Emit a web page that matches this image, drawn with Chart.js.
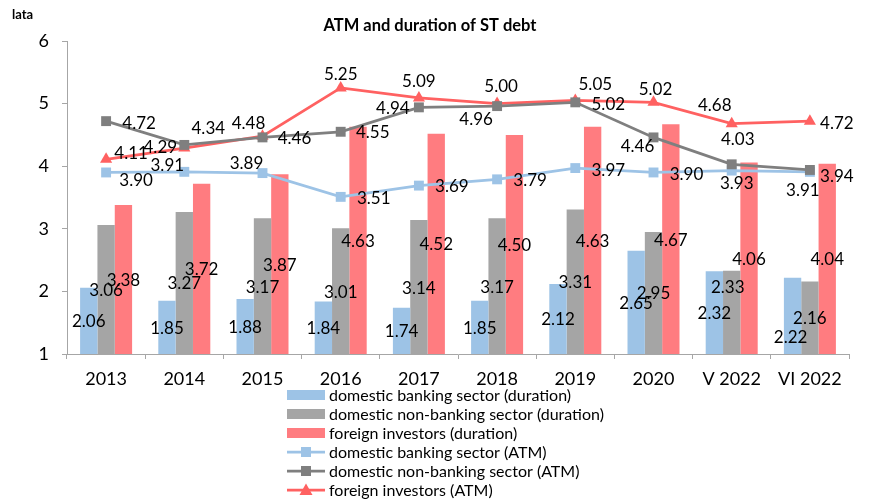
<!DOCTYPE html>
<html>
<head>
<meta charset="utf-8">
<script src="https://cdn.jsdelivr.net/npm/chart.js@4/dist/chart.umd.min.js"></script>
<style>
  html, body { margin: 0; padding: 0; background: #fff; }
  #wrap { width: 891px; height: 499px; position: relative; }
</style>
</head>
<body>
<div id="wrap"><canvas id="c" width="891" height="499"></canvas></div>
<script>
// Categories and series values
const categories = ['2013', '2014', '2015', '2016', '2017', '2018', '2019', '2020', 'V 2022', 'VI 2022'];
const bankDuration    = [2.06, 1.85, 1.88, 1.84, 1.74, 1.85, 2.12, 2.65, 2.32, 2.22];
const nonBankDuration = [3.06, 3.27, 3.17, 3.01, 3.14, 3.17, 3.31, 2.95, 2.33, 2.16];
const foreignDuration = [3.38, 3.72, 3.87, 4.63, 4.52, 4.50, 4.63, 4.67, 4.06, 4.04];
const bankATM         = [3.90, 3.91, 3.89, 3.51, 3.69, 3.79, 3.97, 3.90, 3.93, 3.91];
const nonBankATM      = [4.72, 4.34, 4.46, 4.55, 4.94, 4.96, 5.02, 4.46, 4.03, 3.94];
const foreignATM      = [4.11, 4.29, 4.48, 5.25, 5.09, 5.00, 5.05, 5.02, 4.68, 4.72];
const yTicks = [1, 2, 3, 4, 5, 6];
const seriesNames = [
  'domestic banking sector (duration)',
  'domestic non-banking sector (duration)',
  'foreign investors (duration)',
  'domestic banking sector (ATM)',
  'domestic non-banking sector (ATM)',
  'foreign investors (ATM)'
];
const chartTitle = 'ATM and duration of ST debt';
const unitLabel = 'lata';

// Styling
const FONT = 'Lato, "Open Sans", sans-serif';
const C = {
  blueBar: '#9DC3E6', grayBar: '#A5A5A5', redBar: '#FF7C80',
  blueLine: '#9DC3E6', grayLine: '#7F7F7F', redLine: '#FF6161',
  axis: '#A6A6A6', text: '#000000'
};

// Label placement for the line series (pixel offset of the label centre from its point)
const lineLabelOffsets = {
  3: [[30, 8], [-17, -6], [-16, -10], [33, 2], [33, 1], [33, 1], [33, 2], [33, 2], [5, 13], [-7, 19]],
  4: [[33, 2], [24, -16], [32, 1], [32, 1], [-26, 1], [-21, 13], [33, 2], [-16, 9], [6, -25], [27, 7]],
  5: [[25, -6], [-24, -1], [-14, -13], [0, -13], [0, -16], [4, -17], [20, -16], [2, -13], [-17, -18], [27, 2]]
};
// Bar labels sit at the middle of the bar; these few are nudged apart
const barLabelNudges = { '1:8': [-4, -26], '0:9': [-2, 21] };

const valueLabels = {
  id: 'valueLabels',
  afterDatasetsDraw(chart) {
    const ctx = chart.ctx;
    const bottom = chart.chartArea.bottom;
    ctx.save();
    ctx.font = '17px ' + FONT;
    ctx.fillStyle = C.text;
    ctx.textAlign = 'center';
    ctx.textBaseline = 'middle';
    chart.data.datasets.forEach((ds, di) => {
      const meta = chart.getDatasetMeta(di);
      meta.data.forEach((el, i) => {
        const txt = ds.data[i].toFixed(2);
        if (ds.type === 'line') {
          const off = lineLabelOffsets[di][i];
          ctx.fillText(txt, el.x + off[0], el.y + off[1]);
        } else {
          // centre of the visible part of the bar
          const base = Math.min(el.base, bottom);
          const nudge = barLabelNudges[di + ':' + i] || [0, 0];
          ctx.fillText(txt, el.x + nudge[0], (el.y + base) / 2 + 1 + nudge[1]);
        }
      });
    });
    ctx.restore();
  }
};

const headings = {
  id: 'headings',
  afterDraw(chart) {
    const ctx = chart.ctx;
    ctx.save();
    ctx.fillStyle = C.text;
    ctx.textBaseline = 'middle';
    ctx.font = 'bold 16.5px ' + FONT;
    ctx.textAlign = 'center';
    ctx.fillText(chartTitle, 430, 26);
    ctx.font = 'bold 13px ' + FONT;
    ctx.textAlign = 'left';
    ctx.fillText(unitLabel, 12, 15);
    ctx.restore();
  }
};

// Vertical legend, one entry per row, under the axis
const stackedLegend = {
  id: 'stackedLegend',
  afterDraw(chart) {
    const ctx = chart.ctx;
    const x0 = 287, sw = 38, y0 = 395, row = 19;
    ctx.save();
    ctx.font = '16px ' + FONT;
    ctx.textBaseline = 'middle';
    ctx.textAlign = 'left';
    chart.data.datasets.forEach((ds, di) => {
      const y = y0 + di * row;
      const cx = x0 + sw / 2;
      if (ds.type === 'line') {
        ctx.strokeStyle = ds.borderColor;
        ctx.lineWidth = ds.borderWidth;
        ctx.beginPath();
        ctx.moveTo(x0, y);
        ctx.lineTo(x0 + sw, y);
        ctx.stroke();
        ctx.fillStyle = ds.pointBackgroundColor;
        ctx.beginPath();
        if (ds.pointStyle === 'rect') {
          ctx.rect(cx - 5, y - 5, 10, 10);
        } else {
          ctx.moveTo(cx, y - 6.5);
          ctx.lineTo(cx + 6.5, y + 5);
          ctx.lineTo(cx - 6.5, y + 5);
          ctx.closePath();
        }
        ctx.fill();
      } else {
        ctx.fillStyle = ds.backgroundColor;
        ctx.fillRect(x0, y - 5, sw, 10);
      }
      ctx.fillStyle = C.text;
      ctx.fillText(ds.label, x0 + sw + 4, y + 1);
    });
    ctx.restore();
  }
};

function barSet(label, data, color) {
  return { type: 'bar', label, data, backgroundColor: color, borderWidth: 0,
           barPercentage: 1, categoryPercentage: 0.665, order: 3 };
}
function lineSet(label, data, color, style, order) {
  return { type: 'line', label, data, borderColor: color, borderWidth: 2.75,
           pointStyle: style, pointRadius: 7, pointHoverRadius: 7,
           pointBackgroundColor: color, pointBorderColor: color, pointBorderWidth: 0,
           tension: 0, fill: false, order };
}

new Chart(document.getElementById('c'), {
  type: 'bar',
  data: {
    labels: categories,
    datasets: [
      barSet(seriesNames[0], bankDuration, C.blueBar),
      barSet(seriesNames[1], nonBankDuration, C.grayBar),
      barSet(seriesNames[2], foreignDuration, C.redBar),
      lineSet(seriesNames[3], bankATM, C.blueLine, 'rect', 2),
      lineSet(seriesNames[4], nonBankATM, C.grayLine, 'rect', 0),
      lineSet(seriesNames[5], foreignATM, C.redLine, 'triangle', 1)
    ]
  },
  options: {
    responsive: false,
    devicePixelRatio: 1,
    animation: false,
    layout: { padding: { top: 41, right: 42, left: 0, bottom: 109 } },
    plugins: { legend: { display: false }, tooltip: { enabled: false }, title: { display: false } },
    scales: {
      x: {
        offset: true,
        grid: { offset: true, drawOnChartArea: false, drawTicks: true, tickLength: 5, color: C.axis },
        border: { color: C.axis, width: 1 },
        ticks: { color: C.text, font: { family: FONT, size: 18 }, padding: 9, maxRotation: 0, autoSkip: false },
        afterFit(s) { s.height = 36; }
      },
      y: {
        min: yTicks[0], max: yTicks[yTicks.length - 1],
        afterBuildTicks(s) { s.ticks = yTicks.map(v => ({ value: v })); },
        grid: { drawOnChartArea: false, drawTicks: true, tickLength: 5, color: C.axis },
        border: { color: C.axis, width: 1 },
        ticks: { color: C.text, font: { family: FONT, size: 18 }, padding: 13 },
        afterFit(s) { s.width = 67; }
      }
    }
  },
  plugins: [valueLabels, headings, stackedLegend]
});
</script>
</body>
</html>
